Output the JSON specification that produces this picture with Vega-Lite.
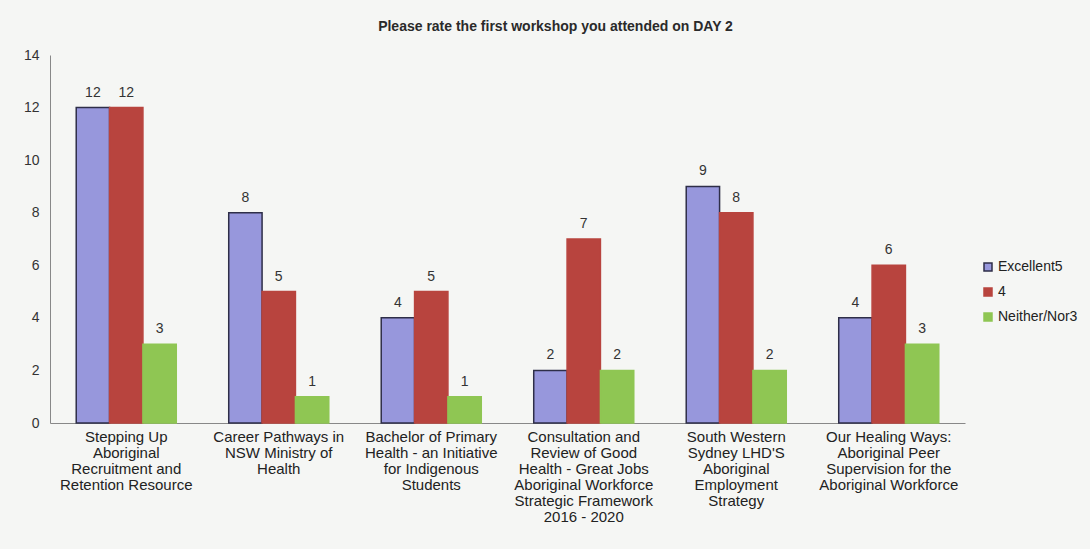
{
  "$schema": "https://vega.github.io/schema/vega-lite/v6.json",
  "autosize": {"type": "none"},
  "width": 915,
  "height": 368,
  "padding": {"left": 50, "top": 55, "right": 125, "bottom": 126},
  "background": "#f5f6f4",
  "title": {
    "text": "Please rate the first workshop you attended on DAY 2",
    "font": "Liberation Sans",
    "fontSize": 14,
    "fontWeight": "bold",
    "color": "#2a2a2a",
    "anchor": "middle",
    "dx": 48,
    "offset": 14
  },
  "config": {
    "view": {"stroke": null},
    "font": "Liberation Sans"
  },
  "data": {
    "values": [
      {"workshop": "Stepping Up|Aboriginal|Recruitment and|Retention Resource", "rating": "Excellent5", "count": 12},
      {"workshop": "Stepping Up|Aboriginal|Recruitment and|Retention Resource", "rating": "4", "count": 12},
      {"workshop": "Stepping Up|Aboriginal|Recruitment and|Retention Resource", "rating": "Neither/Nor3", "count": 3},
      {"workshop": "Career Pathways in|NSW Ministry of|Health", "rating": "Excellent5", "count": 8},
      {"workshop": "Career Pathways in|NSW Ministry of|Health", "rating": "4", "count": 5},
      {"workshop": "Career Pathways in|NSW Ministry of|Health", "rating": "Neither/Nor3", "count": 1},
      {"workshop": "Bachelor of Primary|Health - an Initiative|for Indigenous|Students", "rating": "Excellent5", "count": 4},
      {"workshop": "Bachelor of Primary|Health - an Initiative|for Indigenous|Students", "rating": "4", "count": 5},
      {"workshop": "Bachelor of Primary|Health - an Initiative|for Indigenous|Students", "rating": "Neither/Nor3", "count": 1},
      {"workshop": "Consultation and|Review of Good|Health - Great Jobs|Aboriginal Workforce|Strategic Framework|2016 - 2020", "rating": "Excellent5", "count": 2},
      {"workshop": "Consultation and|Review of Good|Health - Great Jobs|Aboriginal Workforce|Strategic Framework|2016 - 2020", "rating": "4", "count": 7},
      {"workshop": "Consultation and|Review of Good|Health - Great Jobs|Aboriginal Workforce|Strategic Framework|2016 - 2020", "rating": "Neither/Nor3", "count": 2},
      {"workshop": "South Western|Sydney LHD'S|Aboriginal|Employment|Strategy", "rating": "Excellent5", "count": 9},
      {"workshop": "South Western|Sydney LHD'S|Aboriginal|Employment|Strategy", "rating": "4", "count": 8},
      {"workshop": "South Western|Sydney LHD'S|Aboriginal|Employment|Strategy", "rating": "Neither/Nor3", "count": 2},
      {"workshop": "Our Healing Ways:|Aboriginal Peer|Supervision for the|Aboriginal Workforce", "rating": "Excellent5", "count": 4},
      {"workshop": "Our Healing Ways:|Aboriginal Peer|Supervision for the|Aboriginal Workforce", "rating": "4", "count": 6},
      {"workshop": "Our Healing Ways:|Aboriginal Peer|Supervision for the|Aboriginal Workforce", "rating": "Neither/Nor3", "count": 3}
    ]
  },
  "encoding": {
    "x": {
      "field": "workshop",
      "type": "nominal",
      "sort": null,
      "scale": {"paddingInner": 0.344, "paddingOuter": 0.172},
      "axis": {
        "title": null,
        "labelAngle": 0,
        "labelExpr": "split(datum.label, '|')",
        "labelLimit": 0,
        "labelFontSize": 15,
        "labelLineHeight": 16,
        "labelColor": "#222222",
        "labelPadding": 6,
        "ticks": false,
        "domainColor": "#888888",
        "labelBaseline": "top"
      }
    },
    "xOffset": {
      "field": "rating",
      "type": "nominal",
      "sort": ["Excellent5", "4", "Neither/Nor3"],
      "scale": {"paddingInner": 0, "paddingOuter": 0}
    },
    "y": {
      "field": "count",
      "type": "quantitative",
      "scale": {"domain": [0, 14]},
      "axis": {
        "title": null,
        "values": [0, 2, 4, 6, 8, 10, 12, 14],
        "grid": false,
        "ticks": false,
        "domainColor": "#888888",
        "labelFontSize": 14,
        "labelColor": "#333333",
        "labelPadding": 11
      }
    }
  },
  "layer": [
    {
      "mark": {"type": "bar", "strokeWidth": 1.5},
      "encoding": {
        "color": {
          "field": "rating",
          "type": "nominal",
          "sort": ["Excellent5", "4", "Neither/Nor3"],
          "scale": {"domain": ["Excellent5", "4", "Neither/Nor3"], "range": ["#9797dc", "#b8443e", "#8fc653"]},
          "legend": {
            "title": null,
            "orient": "none",
            "legendX": 931,
            "legendY": 205,
            "symbolType": "square",
            "symbolSize": 64,
            "labelFontSize": 14,
            "labelColor": "#222222",
            "rowPadding": 11,
            "labelOffset": 3
          }
        },
        "stroke": {
          "field": "rating",
          "type": "nominal",
          "sort": ["Excellent5", "4", "Neither/Nor3"],
          "scale": {"domain": ["Excellent5", "4", "Neither/Nor3"], "range": ["#2e2e48", "#b8443e", "#8fc653"]},
          "legend": {
            "title": null,
            "orient": "none",
            "legendX": 931,
            "legendY": 205,
            "symbolType": "square",
            "symbolSize": 64,
            "labelFontSize": 14,
            "labelColor": "#222222",
            "rowPadding": 11,
            "labelOffset": 3
          }
        }
      }
    },
    {
      "mark": {"type": "text", "dy": -8, "fontSize": 14, "color": "#333333", "baseline": "bottom"},
      "encoding": {
        "text": {"field": "count", "type": "quantitative"}
      }
    }
  ]
}
